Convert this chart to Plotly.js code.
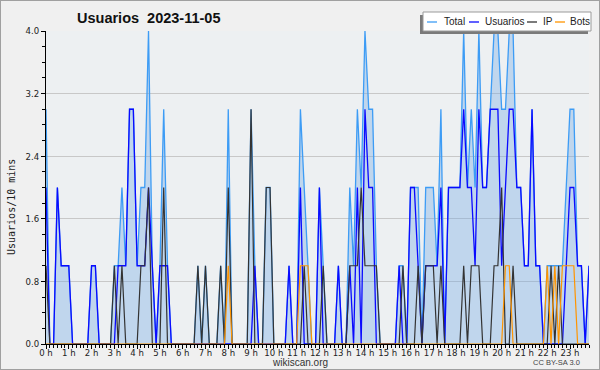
<!DOCTYPE html>
<html>
<head>
<meta charset="utf-8">
<script src="https://cdn.plot.ly/plotly-3.0.1.min.js"></script>
<style>
  html, body { margin: 0; padding: 0; background: #f0f0f0; }
  #wrap { position: relative; width: 600px; height: 370px; }
  #chart { width: 600px; height: 370px; }
  #frame { position: absolute; left: 0; top: 0; width: 598px; height: 368px; border: 1px solid #a0a0a0; pointer-events: none; }
</style>
</head>
<body>
<div id="wrap"><div id="chart"></div><div id="frame"></div></div>
<script>
// ---- data: one value per 10-minute slot, 144 slots (0 h .. 23 h 50) ----
const hourLabels = ["0 h","1 h","2 h","3 h","4 h","5 h","6 h","7 h","8 h","9 h","10 h","11 h",
                    "12 h","13 h","14 h","15 h","16 h","17 h","18 h","19 h","20 h","21 h","22 h","23 h"];

const totalValues = [
  3,0,0,2,1,1,1,0,0,0,0,0,
  1,1,0,0,0,0,1,1,2,1,3,3,
  1,2,2,4,1,0,1,3,1,0,0,0,
  0,0,0,0,1,0,1,0,0,0,1,0,
  3,0,0,0,0,0,3,1,0,0,2,2,
  0,0,0,0,1,0,0,3,2,1,0,0,
  2,1,0,0,0,1,0,0,2,1,3,2,
  4,3,3,1,0,0,0,0,0,1,1,0,
  2,2,2,0,2,2,2,1,3,0,2,2,
  2,2,4,2,3,2,4,2,2,3,4,4,
  3,3,4,4,2,2,1,1,3,1,1,0,
  1,1,1,1,1,2,3,3,1,1,0,1
];
const usuariosValues = [
  2,0,0,2,1,1,1,0,0,0,0,0,
  1,1,0,0,0,0,0,1,1,1,3,3,
  1,1,1,2,1,0,1,1,1,0,0,0,
  0,0,0,0,0,0,0,0,0,0,0,0,
  0,0,0,0,0,0,0,1,0,0,0,0,
  0,0,0,0,1,0,0,2,0,0,0,0,
  2,0,0,0,0,1,0,0,1,0,2,0,
  3,2,2,0,0,0,0,0,0,1,0,0,
  2,2,1,0,1,1,1,1,2,0,2,2,
  2,2,3,2,2,1,3,2,2,3,3,3,
  1,2,3,3,2,2,1,1,3,1,1,0,
  0,0,0,0,0,1,2,2,1,1,0,1
];
const ipValues = [
  1,0,0,0,0,0,0,0,0,0,0,0,
  0,0,0,0,0,0,1,0,1,0,0,0,
  0,1,1,2,0,0,0,2,0,0,0,0,
  0,0,0,0,1,0,1,0,0,0,1,0,
  2,0,0,0,0,0,3,0,0,0,2,2,
  0,0,0,0,0,0,0,0,1,0,0,0,
  0,1,0,0,0,0,0,0,1,1,1,2,
  1,1,1,1,0,0,0,0,0,0,1,0,
  0,0,1,0,1,1,1,0,1,0,0,0,
  0,0,1,0,1,1,1,0,0,0,1,1,
  2,0,0,1,0,0,0,0,0,0,0,0,
  0,1,0,1,0,0,0,0,0,0,0,0
];
const botsValues = [
  0,0,0,0,0,0,0,0,0,0,0,0,
  0,0,0,0,0,0,0,0,0,0,0,0,
  0,0,0,0,0,0,0,0,0,0,0,0,
  0,0,0,0,0,0,0,0,0,0,0,0,
  1,0,0,0,0,0,0,0,0,0,0,0,
  0,0,0,0,0,0,0,1,1,1,0,0,
  0,0,0,0,0,0,0,0,0,0,0,0,
  0,0,0,0,0,0,0,0,0,0,0,0,
  0,0,0,0,0,0,0,0,0,0,0,0,
  0,0,0,0,0,0,0,0,0,0,0,0,
  0,1,1,0,0,0,0,0,0,0,0,0,
  1,0,1,0,1,1,1,1,0,0,0,0
];
const seriesNames = ["Total", "Usuarios", "IP", "Bots"];
const titleText = "Usuarios\u00a0\u00a02023-11-05";
const yTitleText = "Usuarios/10 mins";
const footerText = "wikiscan.org";
const licenseText = "CC BY-SA 3.0";

// ---- styling ----
const colors = ["#3d9cf5", "#0a0aff", "#333333", "#ff9500"];
const slots = totalValues.map((v, i) => i);          // slot index (10 min each)
const hourTicks = hourLabels.map((h, k) => k * 6);   // 6 slots per hour

// plot area in pixels
const L = 46, R = 589, T = 31, B = 344;
const W = R - L, H = B - T;
const px = x => (x - L) / W;
const py = y => (B - y) / H;

const font = "Liberation Sans, Arial, sans-serif";
const narrow = "DejaVu Sans Condensed, Liberation Sans Narrow, Liberation Sans, sans-serif";

const traces = [
  { x: slots, y: totalValues, name: seriesNames[0], type: "scatter", mode: "lines",
    line: { color: colors[0], width: 1.3 }, fill: "tozeroy", fillcolor: "rgba(110,165,228,0.35)" },
  { x: slots, y: usuariosValues, name: seriesNames[1], type: "scatter", mode: "lines",
    line: { color: colors[1], width: 1.3 } },
  { x: slots, y: ipValues, name: seriesNames[2], type: "scatter", mode: "lines",
    line: { color: colors[2], width: 1.2 } },
  { x: slots, y: botsValues, name: seriesNames[3], type: "scatter", mode: "lines",
    line: { color: colors[3], width: 1.2 } }
];

// custom legend (box with shadow, short samples, labels)
const legSampleX = [427, 469, 527, 555];
const legTextX = [442, 483, 541, 568];
const legY = 22;
const shapes = [
  { type: "rect", xref: "paper", yref: "paper", x0: px(420), x1: px(588), y0: py(34), y1: py(15),
    fillcolor: "#7a7a7a", line: { width: 0 }, layer: "above" },
  { type: "rect", xref: "paper", yref: "paper", x0: px(423), x1: px(591), y0: py(31), y1: py(12),
    fillcolor: "#ffffff", line: { color: "#9a9a9a", width: 1 }, layer: "above" }
];
const annotations = [];
seriesNames.forEach((n, k) => {
  shapes.push({ type: "line", xref: "paper", yref: "paper",
    x0: px(legSampleX[k]), x1: px(legSampleX[k] + 10), y0: py(legY), y1: py(legY),
    line: { color: colors[k], width: 1.3 }, layer: "above" });
  annotations.push({ xref: "paper", yref: "paper", x: px(legTextX[k]), y: py(legY),
    xanchor: "left", yanchor: "middle", text: n, showarrow: false,
    font: { family: font, size: 10, color: "#222" } });
});
annotations.push(
  { xref: "paper", yref: "paper", x: px(75), y: py(18), xanchor: "left", yanchor: "middle",
    text: "<b>" + titleText + "</b>", showarrow: false, font: { family: font, size: 14.5, color: "#111" } },
  { xref: "paper", yref: "paper", x: px(11), y: py(207), xanchor: "center", yanchor: "middle",
    text: yTitleText, textangle: -90, showarrow: false, font: { family: "DejaVu Sans Mono, monospace", size: 10, color: "#222" } },
  { xref: "paper", yref: "paper", x: px(300), y: py(362), xanchor: "center", yanchor: "middle",
    text: footerText, showarrow: false, font: { family: font, size: 10, color: "#333" } },
  { xref: "paper", yref: "paper", x: px(556), y: py(362), xanchor: "center", yanchor: "middle",
    text: licenseText, showarrow: false, font: { family: font, size: 7.5, color: "#444" } }
);

const layout = {
  width: 600, height: 370,
  margin: { l: L, r: 600 - R, t: T, b: 370 - B, pad: 0 },
  paper_bgcolor: "#f0f0f0",
  plot_bgcolor: "#edf0f2",
  showlegend: false,
  xaxis: {
    range: [0, 143], fixedrange: true,
    tickmode: "array", tickvals: hourTicks, ticktext: hourLabels,
    ticks: "outside", ticklen: 4, tickwidth: 1, tickcolor: "#000",
    ticklabelstandoff: -4,
    minor: { tickmode: "linear", tick0: 0, dtick: 1, ticks: "outside", ticklen: 3, tickcolor: "#000", showgrid: false },
    showgrid: false, zeroline: false, showline: true, linecolor: "#000", linewidth: 1,
    tickfont: { family: narrow, size: 9.5, color: "#222" }
  },
  yaxis: {
    range: [0, 4], fixedrange: true,
    tick0: 0, dtick: 0.8, tickformat: ".1f",
    ticks: "outside", ticklen: 4, tickwidth: 1, tickcolor: "#000",
    minor: { tick0: 0, dtick: 0.2, ticks: "outside", ticklen: 3, tickcolor: "#000", showgrid: false },
    showgrid: true, gridcolor: "#c8c8c8", gridwidth: 1,
    zeroline: false, showline: true, linecolor: "#000", linewidth: 1,
    tickfont: { family: narrow, size: 9.5, color: "#222" }
  },
  shapes: shapes,
  annotations: annotations
};

Plotly.newPlot("chart", traces, layout, { staticPlot: true, displayModeBar: false });
</script>
</body>
</html>
